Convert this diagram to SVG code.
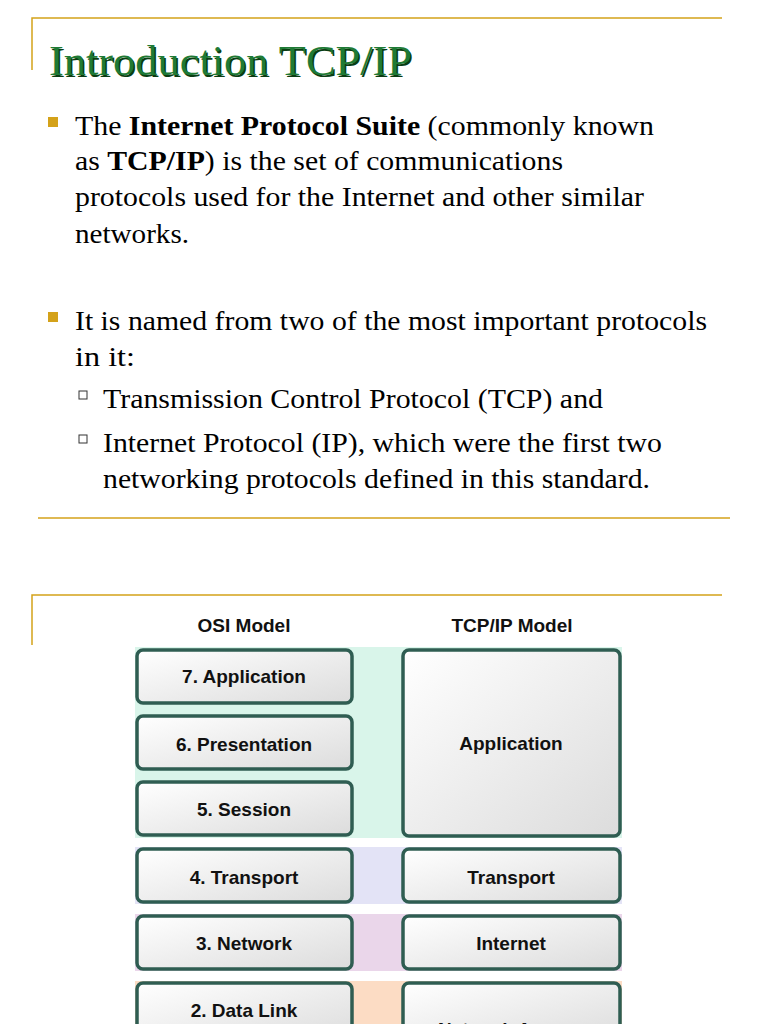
<svg xmlns="http://www.w3.org/2000/svg" width="768" height="1024" viewBox="0 0 768 1024">
<defs>
<linearGradient id="g" x1="0" y1="0" x2="1" y2="1"><stop offset="0" stop-color="#ffffff"/><stop offset="1" stop-color="#dcdcdc"/></linearGradient>
<style>
.rule{stroke:#d4a21a;stroke-width:1.5;fill:none}
.body{font-family:"Liberation Serif",serif;font-size:27px;fill:#000}
.box{fill:url(#g);stroke:#2f5d52;stroke-width:3.5}
.lbl{font-family:"Liberation Sans",Arial,sans-serif;font-weight:bold;font-size:19px;fill:#111;text-anchor:middle}
.bul{fill:#d4a21a}
.sub{fill:#fff;stroke:#333;stroke-width:1}
</style>
</defs>
<rect width="768" height="1024" fill="#fff"/>
<path class="rule" d="M32 70 V18 H722"/>
<text x="49" y="75" font-family="Liberation Serif,serif" font-size="43" fill="#0a3d12" transform="translate(1.5,1.5)" textLength="363" lengthAdjust="spacingAndGlyphs">Introduction TCP/IP</text>
<text x="49" y="75" font-family="Liberation Serif,serif" font-size="43" fill="#1f7a35" textLength="363" lengthAdjust="spacingAndGlyphs">Introduction TCP/IP</text>
<rect class="bul" x="48" y="117" width="10" height="10"/>
<text class="body" x="75" y="135" textLength="579" lengthAdjust="spacingAndGlyphs">The <tspan font-weight="bold">Internet Protocol Suite</tspan> (commonly known</text>
<text class="body" x="75" y="170" textLength="488" lengthAdjust="spacingAndGlyphs">as <tspan font-weight="bold">TCP/IP</tspan>) is the set of communications</text>
<text class="body" x="75" y="206" textLength="569" lengthAdjust="spacingAndGlyphs">protocols used for the Internet and other similar</text>
<text class="body" x="75" y="243" textLength="114" lengthAdjust="spacingAndGlyphs">networks.</text>
<rect class="bul" x="48" y="312" width="10" height="10"/>
<text class="body" x="75" y="330" textLength="632" lengthAdjust="spacingAndGlyphs">It is named from two of the most important protocols</text>
<text class="body" x="75" y="366" textLength="60" lengthAdjust="spacingAndGlyphs">in it:</text>
<rect class="sub" x="79" y="391" width="8" height="8"/>
<text class="body" x="103" y="408" textLength="500" lengthAdjust="spacingAndGlyphs">Transmission Control Protocol (TCP) and</text>
<rect class="sub" x="79" y="435" width="8" height="8"/>
<text class="body" x="103" y="452" textLength="559" lengthAdjust="spacingAndGlyphs">Internet Protocol (IP), which were the first two</text>
<text class="body" x="103" y="488" textLength="547" lengthAdjust="spacingAndGlyphs">networking protocols defined in this standard.</text>
<line class="rule" x1="38" y1="518" x2="730" y2="518"/>
<path class="rule" d="M32 645 V595 H722"/>
<rect x="108" y="596" width="539" height="428" fill="#fff"/>
<text class="lbl" x="244" y="632">OSI Model</text>
<text class="lbl" x="512" y="632">TCP/IP Model</text>
<rect x="135" y="647" width="487" height="191" fill="#d9f5ea"/>
<rect x="135" y="847" width="487" height="57" fill="#e3e3f6"/>
<rect x="135" y="914" width="487" height="57" fill="#ead6ea"/>
<rect x="135" y="981" width="487" height="50" fill="#fcdcc4"/>
<g id="osi7"><rect class="box" x="137" y="650" width="215" height="53" rx="6"/><text class="lbl" x="244" y="683">7. Application</text></g>
<g id="osi6"><rect class="box" x="137" y="716" width="215" height="53" rx="6"/><text class="lbl" x="244" y="751">6. Presentation</text></g>
<g id="osi5"><rect class="box" x="137" y="782" width="215" height="53" rx="6"/><text class="lbl" x="244" y="816">5. Session</text></g>
<g id="osi4"><rect class="box" x="137" y="849" width="215" height="53" rx="6"/><text class="lbl" x="244" y="884">4. Transport</text></g>
<g id="osi3"><rect class="box" x="137" y="916" width="215" height="53" rx="6"/><text class="lbl" x="244" y="950">3. Network</text></g>
<g id="osi2"><rect class="box" x="137" y="983" width="215" height="60" rx="6"/><text class="lbl" x="244" y="1017">2. Data Link</text></g>
<g id="tcpApp"><rect class="box" x="403" y="650" width="217" height="186" rx="6"/><text class="lbl" x="511" y="750">Application</text></g>
<g id="tcpTrans"><rect class="box" x="403" y="849" width="217" height="53" rx="6"/><text class="lbl" x="511" y="884">Transport</text></g>
<g id="tcpInet"><rect class="box" x="403" y="916" width="217" height="53" rx="6"/><text class="lbl" x="511" y="950">Internet</text></g>
<g id="tcpNet"><rect class="box" x="403" y="983" width="217" height="60" rx="6"/><text class="lbl" x="511" y="1036">Network Access</text></g>
<g id="connectors"/>
</svg>
